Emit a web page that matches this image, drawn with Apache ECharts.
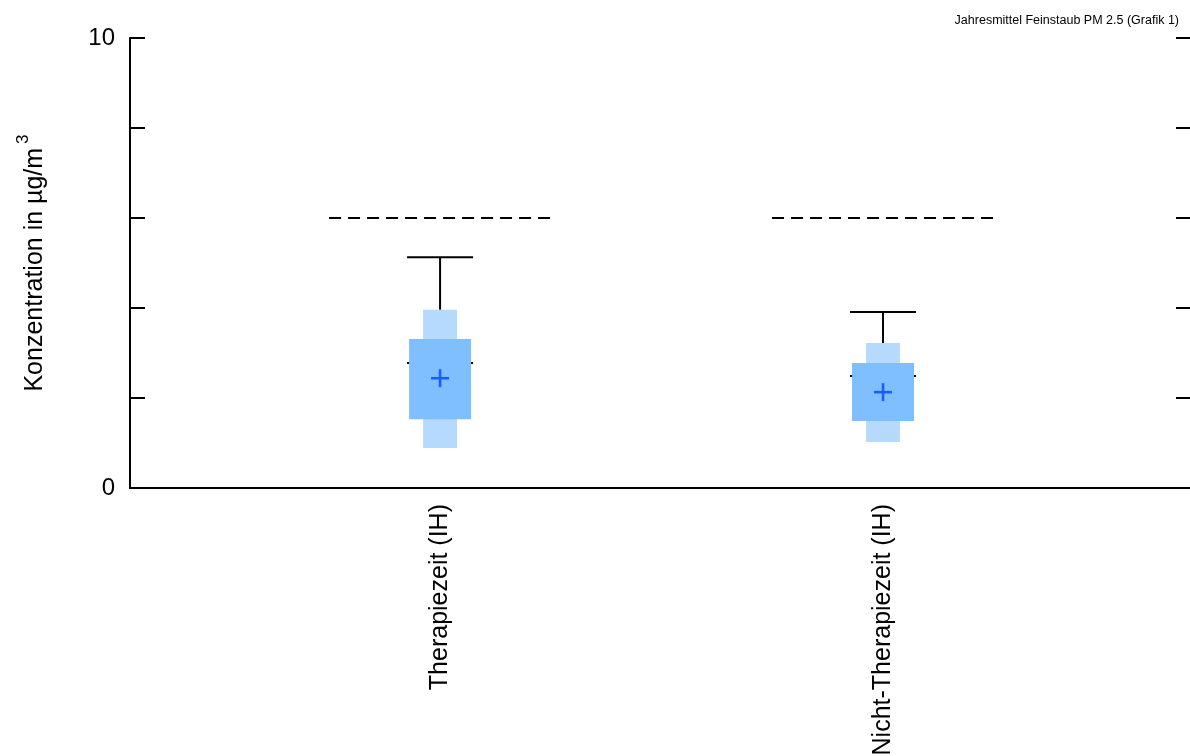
<!DOCTYPE html>
<html>
<head>
<meta charset="utf-8">
<script src="https://cdn.jsdelivr.net/npm/echarts@6/dist/echarts.min.js"></script>
<style>
html,body{margin:0;padding:0;background:#fff;}
#chart{width:1190px;height:756px;}
</style>
</head>
<body>
<div id="chart"></div>
<script>
const categories = ['Therapiezeit (IH)', 'Nicht-Therapiezeit (IH)'];
const categoryPos = [1, 2];
const whiskerTop = [5.13, 3.91];
const outerHigh = [3.96, 3.22];
const innerHigh = [3.31, 2.78];
const median = [2.78, 2.49];
const mean = [2.44, 2.13];
const innerLow = [1.53, 1.49];
const outerLow = [0.89, 1.02];
const limitValue = [6.0, 6.0];
const yTickLabels = [0, 10];

const FONT = '"Liberation Sans Narrow", "Liberation Sans", sans-serif';

const boxData = categories.map((c, i) => [categoryPos[i], whiskerTop[i], outerHigh[i], innerHigh[i], median[i], mean[i], innerLow[i], outerLow[i], limitValue[i]]);

const chart = echarts.init(document.getElementById('chart'), null, {renderer: 'canvas'});

chart.setOption({
  animation: false,
  backgroundColor: '#fff',
  title: {
    text: 'Jahresmittel Feinstaub PM 2.5 (Grafik 1)',
    right: 6, top: 9,
    textStyle: {fontFamily: FONT, fontSize: 12.5, fontWeight: 'normal', color: '#000'}
  },
  grid: {left: 130, right: 0, top: 38, bottom: 268, containLabel: false, outerBoundsMode: 'none'},
  xAxis: [{
    type: 'value', position: 'bottom', min: 0.3, max: 2.693,
    axisLine: {show: true, lineStyle: {color: '#000', width: 2}},
    axisTick: {show: false},
    splitLine: {show: false},
    axisLabel: {
      customValues: categoryPos,
      rotate: 90, margin: 16,
      fontFamily: FONT, fontSize: 25, color: '#000',
      formatter: v => categories[categoryPos.indexOf(v)] || ''
    }
  }, {
    type: 'value', position: 'top', min: 0.3, max: 2.693,
    axisLine: {show: true, lineStyle: {color: '#000', width: 2}},
    axisTick: {show: false}, axisLabel: {show: false}, splitLine: {show: false}
  }],
  yAxis: [{
    type: 'value', min: 0, max: 10, interval: 2, position: 'left',
    axisLine: {show: true, lineStyle: {color: '#000', width: 2}},
    axisTick: {show: true, inside: true, length: 15, lineStyle: {color: '#000', width: 2}},
    splitLine: {show: false},
    axisLabel: {
      fontFamily: FONT, fontSize: 24, color: '#000', margin: 15,
      formatter: v => yTickLabels.indexOf(v) >= 0 ? String(v) : ''
    },
    name: 'Konzentration in µg/m{sup|3}',
    nameLocation: 'middle', nameGap: 74, nameRotate: 90,
    nameTextStyle: {
      fontFamily: FONT, fontSize: 25, color: '#000',
      rich: {sup: {fontFamily: FONT, fontSize: 17, color: '#000', padding: [0, 0, 24, 4]}}
    }
  }, {
    type: 'value', min: 0, max: 10, interval: 2, position: 'right',
    axisLine: {show: false},
    axisTick: {show: true, inside: true, length: 14, lineStyle: {color: '#000', width: 2}},
    splitLine: {show: false}, axisLabel: {show: false}
  }],
  series: [{
    type: 'custom',
    xAxisIndex: 0, yAxisIndex: 0,
    data: boxData,
    clip: false,
    renderItem: function (params, api) {
      const x = api.value(0);
      const p = v => api.coord([x, v]);
      const cx = p(0)[0];
      const yW = p(api.value(1))[1];
      const yOH = p(api.value(2))[1];
      const yIH = p(api.value(3))[1];
      const yMed = p(api.value(4))[1];
      const yMean = p(api.value(5))[1];
      const yIL = p(api.value(6))[1];
      const yOL = p(api.value(7))[1];
      const yLim = p(api.value(8))[1];
      const black = {stroke: '#000', lineWidth: 2};
      return {
        type: 'group',
        children: [
          {type: 'line', shape: {x1: cx - 111, y1: yLim, x2: cx + 111, y2: yLim},
           style: {stroke: '#000', lineWidth: 2, lineDash: [12, 7]}},
          {type: 'line', shape: {x1: cx, y1: yW, x2: cx, y2: yOH}, style: black},
          {type: 'line', shape: {x1: cx - 33, y1: yW, x2: cx + 33, y2: yW}, style: black},
          {type: 'line', shape: {x1: cx - 33, y1: yMed, x2: cx + 33, y2: yMed}, style: {stroke: '#000', lineWidth: 2}},
          {type: 'rect', shape: {x: cx - 17, y: yOH, width: 34, height: yOL - yOH},
           style: {fill: '#b6dafe'}},
          {type: 'rect', shape: {x: cx - 31, y: yIH, width: 62, height: yIL - yIH},
           style: {fill: '#80bfff'}},
          {type: 'line', shape: {x1: cx - 9, y1: yMean, x2: cx + 9, y2: yMean}, style: {stroke: '#1a5cff', lineWidth: 2.6}},
          {type: 'line', shape: {x1: cx, y1: yMean - 9, x2: cx, y2: yMean + 9}, style: {stroke: '#1a5cff', lineWidth: 2.6}}
        ]
      };
    }
  }]
});
</script>
</body>
</html>
